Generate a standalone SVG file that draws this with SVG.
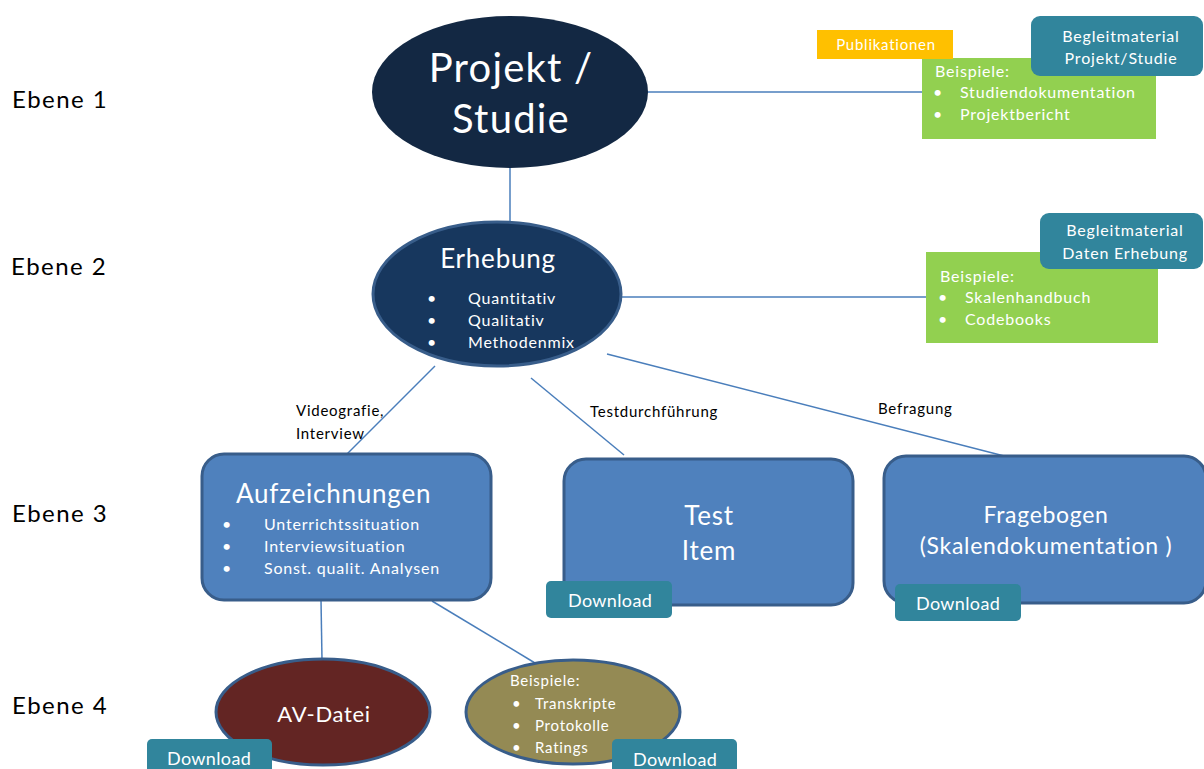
<svg xmlns="http://www.w3.org/2000/svg" width="1204" height="769" viewBox="0 0 1204 769">
<style>
text{font-family:Lato,"Open Sans","Liberation Sans",sans-serif;fill:#fff;letter-spacing:0.05em}
.big{letter-spacing:0.03em}
.lvl{fill:#000;font-size:24px;letter-spacing:0.06em}
.lbl{fill:#000;font-size:15px}
.conn{stroke:#4a7ebb;stroke-width:1.5;fill:none}
.box{fill:#4f81bd;stroke:#385d8a;stroke-width:3}
.dl{fill:#31859c}
.dlt{font-size:18px;letter-spacing:0.02em}
.green{fill:#92d050}
.s16{font-size:16px}
</style>
<rect width="1204" height="769" fill="#fff"/>
<g id="levels">
<text class="lvl" x="12" y="108">Ebene 1</text>
<text class="lvl" x="11" y="275">Ebene 2</text>
<text class="lvl" x="12" y="522">Ebene 3</text>
<text class="lvl" x="12" y="714">Ebene 4</text>
</g>
<g id="connectors">
<line class="conn" x1="648" y1="92" x2="922" y2="92"/>
<line class="conn" x1="510" y1="166" x2="510" y2="222"/>
<line class="conn" x1="620" y1="297" x2="926" y2="297"/>
<line class="conn" x1="435" y1="366" x2="347" y2="454"/>
<line class="conn" x1="531" y1="378" x2="624" y2="455"/>
<line class="conn" x1="607" y1="354" x2="1012" y2="458"/>
<line class="conn" x1="321" y1="600" x2="322" y2="660"/>
<line class="conn" x1="432" y1="601" x2="535" y2="663"/>
</g>
<g id="edge-labels">
<text class="lbl" x="296" y="416">Videografie,</text>
<text class="lbl" x="296" y="439">Interview</text>
<text class="lbl" x="590" y="417">Testdurchführung</text>
<text class="lbl" x="878" y="414">Befragung</text>
</g>
<g id="projekt">
<ellipse cx="510" cy="92" rx="138" ry="76" fill="#132843"/>
<text class="big" x="511" y="82" font-size="40" text-anchor="middle">Projekt /</text>
<text class="big" x="511" y="133" font-size="40" text-anchor="middle">Studie</text>
</g>
<g id="beispiele1">
<rect class="green" x="922" y="58" width="234" height="81"/>
<text class="s16" x="935" y="77">Beispiele:</text>
<text class="s16" x="933" y="98">•</text><text class="s16" x="960" y="98">Studiendokumentation</text>
<text class="s16" x="933" y="120">•</text><text class="s16" x="960" y="120">Projektbericht</text>
</g>
<g id="publikationen">
<rect x="817" y="30" width="136" height="29" fill="#ffc000"/>
<text x="886" y="50" font-size="15" text-anchor="middle">Publikationen</text>
</g>
<g id="begleit1">
<rect class="dl" x="1031" y="16" width="172" height="60" rx="9"/>
<text class="s16" x="1121" y="42" text-anchor="middle">Begleitmaterial</text>
<text class="s16" x="1121" y="64" text-anchor="middle">Projekt/Studie</text>
</g>
<g id="erhebung">
<ellipse cx="497" cy="294" rx="124" ry="72" fill="#17375e" stroke="#385d8a" stroke-width="3"/>
<text class="big" x="498" y="268" font-size="26" text-anchor="middle">Erhebung</text>
<text class="s16" x="427" y="304">•</text><text class="s16" x="468" y="304">Quantitativ</text>
<text class="s16" x="427" y="326">•</text><text class="s16" x="468" y="326">Qualitativ</text>
<text class="s16" x="427" y="348">•</text><text class="s16" x="468" y="348">Methodenmix</text>
</g>
<g id="beispiele2">
<rect class="green" x="926" y="252" width="232" height="91"/>
<text class="s16" x="940" y="282">Beispiele:</text>
<text class="s16" x="938" y="303">•</text><text class="s16" x="965" y="303">Skalenhandbuch</text>
<text class="s16" x="938" y="325">•</text><text class="s16" x="965" y="325">Codebooks</text>
</g>
<g id="begleit2">
<rect class="dl" x="1040" y="213" width="163" height="56" rx="9"/>
<text class="s16" x="1125" y="236" text-anchor="middle">Begleitmaterial</text>
<text class="s16" x="1125" y="259" text-anchor="middle">Daten Erhebung</text>
</g>
<g id="aufzeichnungen">
<rect class="box" x="202" y="454" width="289" height="146" rx="22"/>
<text class="big" x="236" y="503" font-size="26">Aufzeichnungen</text>
<text class="s16" x="222" y="530">•</text><text class="s16" x="264" y="530">Unterrichtssituation</text>
<text class="s16" x="222" y="552">•</text><text class="s16" x="264" y="552">Interviewsituation</text>
<text class="s16" x="222" y="574">•</text><text class="s16" x="264" y="574">Sonst. qualit. Analysen</text>
</g>
<g id="testitem">
<rect class="box" x="564" y="459" width="289" height="146" rx="22"/>
<text class="big" x="709" y="525" font-size="26" text-anchor="middle">Test</text>
<text class="big" x="709" y="560" font-size="26" text-anchor="middle">Item</text>
<rect class="dl" x="546" y="581" width="126" height="37" rx="5"/>
<text class="dlt" x="568" y="607">Download</text>
</g>
<g id="fragebogen">
<rect class="box" x="884" y="456" width="322" height="147" rx="22"/>
<text class="big" x="1046" y="523" font-size="23" text-anchor="middle">Fragebogen</text>
<text class="big" x="1046" y="554" font-size="23" text-anchor="middle">(Skalendokumentation )</text>
<rect class="dl" x="895" y="584" width="126" height="37" rx="5"/>
<text class="dlt" x="916" y="610">Download</text>
</g>
<g id="avdatei">
<ellipse cx="323" cy="712" rx="107" ry="53" fill="#632523" stroke="#385d8a" stroke-width="3"/>
<text class="big" x="324" y="722" font-size="22" text-anchor="middle">AV-Datei</text>
<rect class="dl" x="147" y="739" width="125" height="37" rx="5"/>
<text class="dlt" x="167" y="765">Download</text>
</g>
<g id="beispiele4">
<ellipse cx="573" cy="712" rx="107" ry="52" fill="#948a54" stroke="#385d8a" stroke-width="3"/>
<text x="510" y="686" font-size="15">Beispiele:</text>
<text x="512" y="709" font-size="15">•</text><text x="535" y="709" font-size="15">Transkripte</text>
<text x="512" y="731" font-size="15">•</text><text x="535" y="731" font-size="15">Protokolle</text>
<text x="512" y="753" font-size="15">•</text><text x="535" y="753" font-size="15">Ratings</text>
<rect class="dl" x="612" y="739" width="125" height="37" rx="5"/>
<text class="dlt" x="633" y="766">Download</text>
</g>
</svg>
